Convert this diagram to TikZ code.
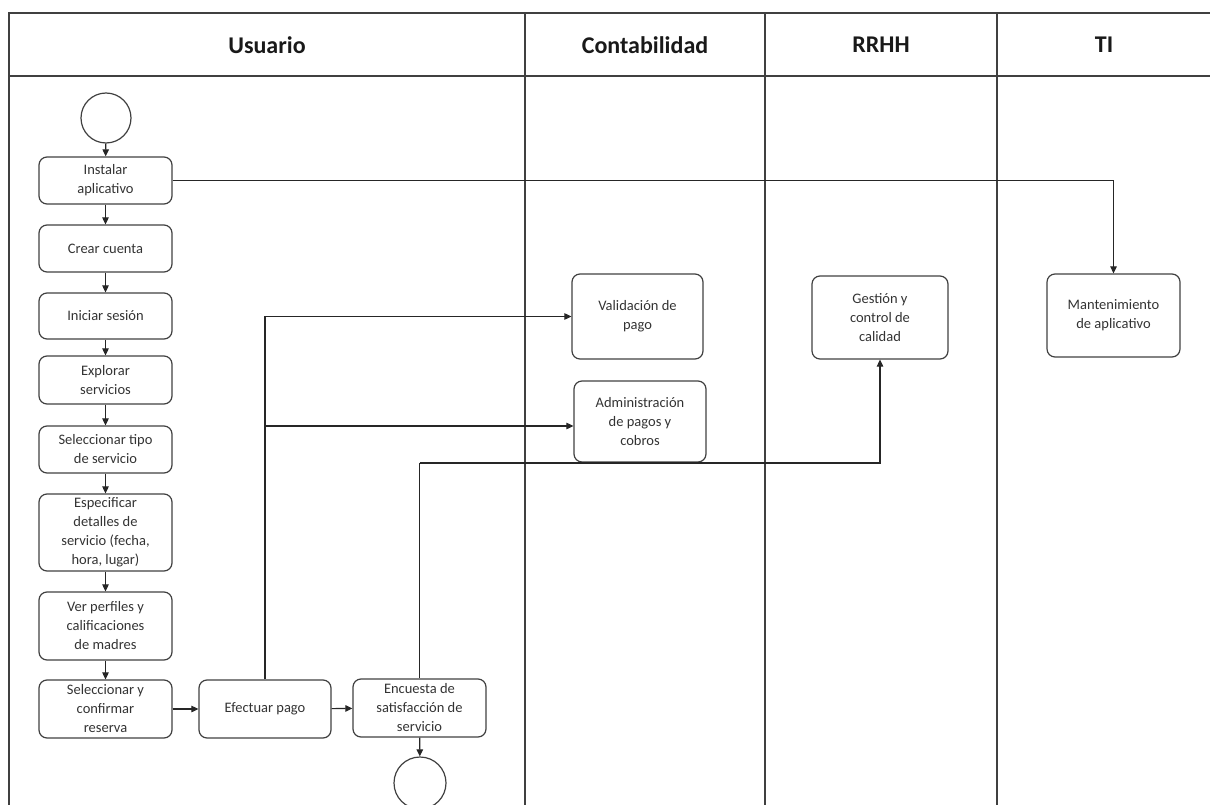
\documentclass[tikz,border=0pt]{standalone}
\usepackage{fontspec}
\setmainfont{Carlito}
\usetikzlibrary{arrows.meta,calc}
\begin{document}
\begin{tikzpicture}[x=1pt,y=-1pt,
  lane/.style={draw=black!75,line width=1.4pt},
  hdr/.style={font=\fontsize{24}{28}\selectfont\bfseries,text=black!90},
  box/.style={draw=black!75,line width=1.2pt,rounded corners=8pt,align=center,
    inner sep=1pt,font=\fontsize{14.5}{19}\selectfont,text=black!80},
  ev/.style={draw=black!75,line width=1.2pt,circle,minimum size=50pt,inner sep=0pt},
  arr/.style={draw=black!85,line width=1.1pt,-{Triangle[length=7pt,width=6.5pt]}},
  ln/.style={draw=black!85,line width=1.1pt}]
\useasboundingbox (0,0) rectangle (1210,805);
\begin{scope}
\clip (0,0) rectangle (1210,805);
% swimlane frame
\draw[lane] (1210,13) -- (9,13) -- (9,810);
\draw[lane] (9,76) -- (1210,76);
\draw[lane] (525,13) -- (525,810);
\draw[lane] (765,13) -- (765,810);
\draw[lane] (997,13) -- (997,810);
\node[hdr] (hU) at (267,45) {Usuario};
\node[hdr] (hC) at (645,45) {Contabilidad};
\node[hdr] (hR) at (881,45) {RRHH};
\node[hdr] (hT) at (1104,45) {TI};
% nodes
\node[ev] (start) at (106,118) {};
\node[box,minimum width=133pt,minimum height=47pt] (inst) at (105.5,180.5) {Instalar\\aplicativo};
\node[box,minimum width=133pt,minimum height=47pt] (crear) at (105.5,248.5) {Crear cuenta};
\node[box,minimum width=133pt,minimum height=46pt] (ini) at (105.5,316) {Iniciar sesión};
\node[box,minimum width=133pt,minimum height=48pt] (expl) at (105.5,380) {Explorar\\servicios};
\node[box,minimum width=133pt,minimum height=47pt] (tipo) at (105.5,449.5) {Seleccionar tipo\\de servicio};
\node[box,minimum width=133pt,minimum height=77pt] (esp) at (105.5,532.5) {Especificar\\detalles de\\servicio (fecha,\\hora, lugar)};
\node[box,minimum width=133pt,minimum height=68pt] (ver) at (105.5,626) {Ver perfiles y\\calificaciones\\de madres};
\node[box,minimum width=133pt,minimum height=58pt] (conf) at (105.5,709) {Seleccionar y\\confirmar\\reserva};
\node[box,minimum width=132pt,minimum height=58pt] (efe) at (265,709) {Efectuar pago};
\node[box,minimum width=133pt,minimum height=58pt] (enc) at (419.5,708) {Encuesta de\\satisfacción de\\servicio};
\node[ev,minimum size=52pt] (fin) at (420,783) {};
\node[box,minimum width=131pt,minimum height=85pt] (val) at (637.5,316.5) {Validación de\\pago};
\node[box,minimum width=132pt,minimum height=81pt] (adm) at (640,421.5) {Administración\\de pagos y\\cobros};
\node[box,minimum width=136pt,minimum height=83pt] (ges) at (880,317.5) {Gestión y\\control de\\calidad};
\node[box,minimum width=133pt,minimum height=83pt] (man) at (1113.5,315.5) {Mantenimiento\\de aplicativo};
% connectors
\draw[arr] (start) -- (inst);
\draw[arr] (inst) -- (crear);
\draw[arr] (crear) -- (ini);
\draw[arr] (ini) -- (expl);
\draw[arr] (expl) -- (tipo);
\draw[arr] (tipo) -- (esp);
\draw[arr] (esp) -- (ver);
\draw[arr] (ver) -- (conf);
\draw[arr] (conf) -- (efe);
\draw[arr] (efe) -- (enc);
\draw[arr] (enc) -- (fin);
\draw[arr] (inst.east) -| (man.north);
\draw[arr] (efe.north) |- (val.west);
\coordinate (b2) at (265,426);
\draw[arr] (b2) -- (b2 -| adm.west);
\coordinate (k) at (419.5,463);
\draw[ln] (enc.north) -- (k);
\draw[arr] (k) -| (ges.south);
\end{scope}
\end{tikzpicture}
\end{document}
